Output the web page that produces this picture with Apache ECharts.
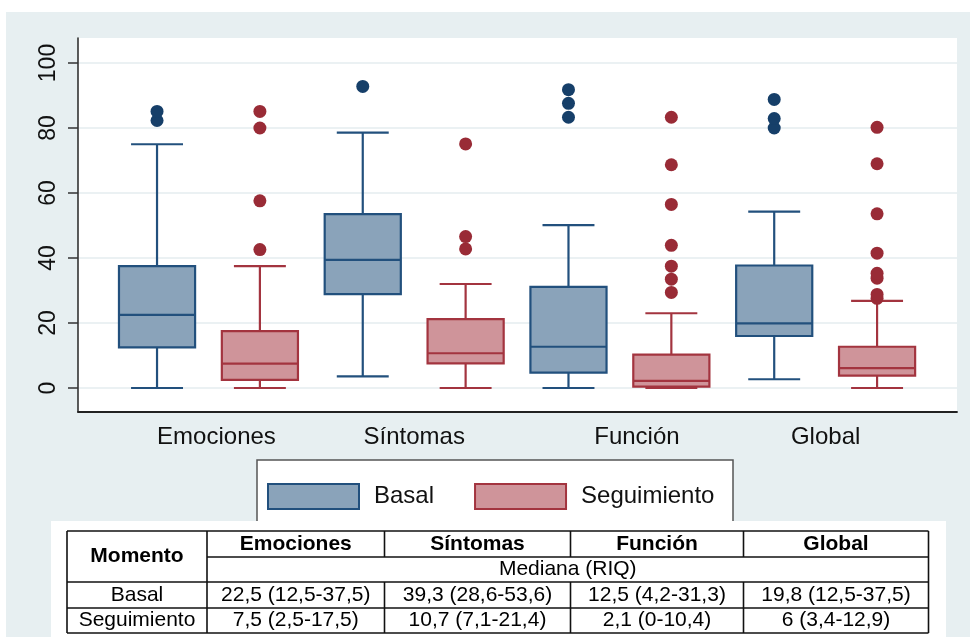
<!DOCTYPE html>
<html><head><meta charset="utf-8">
<script src="https://cdn.jsdelivr.net/npm/echarts@6/dist/echarts.min.js"></script>
<style>html,body{margin:0;padding:0;background:#fff}#c{width:970px;height:637px}</style>
</head><body><div id="c"></div>
<script>
// ---------- data ----------
const categories = ['Emociones', 'Síntomas', 'Función', 'Global'];
const groups = ['Basal', 'Seguimiento'];
const yTicks = [0, 20, 40, 60, 80, 100];
// [min whisker, Q1, median, Q3, max whisker]
const basalStats = [
  [0, 12.5, 22.5, 37.5, 75],
  [3.6, 28.9, 39.4, 53.5, 78.6],
  [0, 4.7, 12.7, 31.1, 50.1],
  [2.7, 16.0, 19.9, 37.7, 54.3]
];
const seguimientoStats = [
  [0, 2.5, 7.5, 17.5, 37.5],
  [0, 7.6, 10.7, 21.2, 32.0],
  [0, 0.4, 2.2, 10.3, 23.0],
  [0, 3.8, 6.1, 12.7, 26.8]
];
const basalOutliers = [
  [82.3, 85.1],
  [92.8],
  [83.3, 87.6, 91.8],
  [80.0, 82.9, 88.8]
];
const seguimientoOutliers = [
  [42.6, 57.6, 80.0, 85.1],
  [42.8, 46.6, 75.1],
  [29.4, 33.5, 37.5, 43.9, 56.5, 68.7, 83.3],
  [27.6, 28.8, 33.8, 35.3, 41.5, 53.6, 69.0, 80.2]
];
// table
const tableHeader = 'Momento';
const tableSubHeader = 'Mediana (RIQ)';
const tableRowNames = ['Basal', 'Seguimiento'];
const tableBasal = ['22,5 (12,5-37,5)', '39,3 (28,6-53,6)', '12,5 (4,2-31,3)', '19,8 (12,5-37,5)'];
const tableSeguimiento = ['7,5 (2,5-17,5)', '10,7 (7,1-21,4)', '2,1 (0-10,4)', '6 (3,4-12,9)'];

// ---------- style ----------
const FONT = '"Liberation Sans", Arial, Helvetica, sans-serif';
const basalLine = '#22507d', basalFill = '#8aa3ba', basalDot = '#163f69';
const segLine = '#a3343f', segFill = '#cf949a', segDot = '#992b36';
const bgGray = '#e7eff1';
// per-label horizontal nudge (style only)
const labelNudge = [16, 0, 34, 0];

const slots = categories.flatMap(c => groups.map(g => c + ' ' + g));

function boxData(stats, g) {
  return stats.map((s, i) => [i * 2 + g].concat(s));
}
function outlierData(outs, g) {
  return outs.flatMap((arr, i) => arr.map(v => [i * 2 + g, v]));
}
function makeRender(line, fill) {
  return function (params, api) {
    const x = api.value(0);
    const p = [1, 2, 3, 4, 5].map(k => api.coord([x, api.value(k)]));
    const band = api.size([1, 0])[0];
    const bw = band * 0.74, cw = band * 0.505;
    const cx = p[0][0];
    const st = { stroke: line, lineWidth: 2.2, fill: null };
    return {
      type: 'group',
      children: [
        { type: 'line', shape: { x1: cx, y1: p[0][1], x2: cx, y2: p[1][1] }, style: st },
        { type: 'line', shape: { x1: cx, y1: p[3][1], x2: cx, y2: p[4][1] }, style: st },
        { type: 'line', shape: { x1: cx - cw / 2, y1: p[0][1], x2: cx + cw / 2, y2: p[0][1] }, style: st },
        { type: 'line', shape: { x1: cx - cw / 2, y1: p[4][1], x2: cx + cw / 2, y2: p[4][1] }, style: st },
        { type: 'rect', shape: { x: cx - bw / 2, y: p[3][1], width: bw, height: p[1][1] - p[3][1] },
          style: { fill: fill, stroke: line, lineWidth: 2.2 } },
        { type: 'line', shape: { x1: cx - bw / 2, y1: p[2][1], x2: cx + bw / 2, y2: p[2][1] }, style: st }
      ]
    };
  };
}

// ---------- table graphics ----------
const colX = [67, 207, 384.5, 570.5, 743.5, 928.5];
const rowY = [531, 557, 582, 608, 633];
const tg = [];
const lineSt = { stroke: '#111', lineWidth: 1.6 };
function hl(x1, x2, y) { tg.push({ type: 'line', z: 6, shape: { x1, y1: y, x2, y2: y }, style: lineSt }); }
function vl(x, y1, y2) { tg.push({ type: 'line', z: 6, shape: { x1: x, y1, x2: x, y2 }, style: lineSt }); }
function tx(t, x, y, bold) {
  tg.push({ type: 'text', z: 6, x, y, style: { text: t, fontFamily: FONT, fontSize: 21,
    fontWeight: bold ? 'bold' : 'normal', fill: '#000', align: 'center', verticalAlign: 'middle' } });
}
tg.push({ type: 'rect', z: 5, shape: { x: 51, y: 521, width: 895, height: 116 }, style: { fill: '#fff' } });
hl(colX[0], colX[5], rowY[0]);
hl(colX[1], colX[5], rowY[1]);
hl(colX[0], colX[5], rowY[2]);
hl(colX[0], colX[5], rowY[3]);
hl(colX[0], colX[5], rowY[4]);
vl(colX[0], rowY[0], rowY[4]);
vl(colX[5], rowY[0], rowY[4]);
vl(colX[1], rowY[0], rowY[4]);
for (let i = 2; i < 5; i++) { vl(colX[i], rowY[0], rowY[1]); vl(colX[i], rowY[2], rowY[4]); }
tx(tableHeader, (colX[0] + colX[1]) / 2, (rowY[0] + rowY[2]) / 2, true);
categories.forEach((c, i) => tx(c, (colX[i + 1] + colX[i + 2]) / 2, (rowY[0] + rowY[1]) / 2, true));
tx(tableSubHeader, (colX[1] + colX[5]) / 2, (rowY[1] + rowY[2]) / 2, false);
[tableBasal, tableSeguimiento].forEach((row, r) => {
  tx(tableRowNames[r], (colX[0] + colX[1]) / 2, (rowY[2 + r] + rowY[3 + r]) / 2, false);
  row.forEach((v, i) => tx(v, (colX[i + 1] + colX[i + 2]) / 2, (rowY[2 + r] + rowY[3 + r]) / 2, false));
});

const rich = {};
labelNudge.forEach((n, i) => { rich['l' + i] = { fontSize: 24, color: '#111', fontFamily: FONT, padding: [0, 0, 0, n] }; });

const chart = echarts.init(document.getElementById('c'), null, { renderer: 'canvas' });
chart.setOption({
  backgroundColor: bgGray,
  animation: false,
  textStyle: { fontFamily: FONT },
  graphic: { elements: [
    { type: 'rect', z: 0, shape: { x: 0, y: 0, width: 970, height: 12 }, style: { fill: '#fff' } },
    { type: 'rect', z: 0, shape: { x: 0, y: 0, width: 6, height: 637 }, style: { fill: '#fff' } },
    { type: 'rect', z: 1, shape: { x: 257, y: 460, width: 476, height: 80 },
      style: { fill: '#fff', stroke: '#555', lineWidth: 1.5 } }
  ].concat(tg) },
  grid: [
    { left: 78, top: 38, width: 879, height: 374, show: true, backgroundColor: '#fff', borderWidth: 0 },
    { left: 78, top: 63, width: 879, height: 325 },
    { left: 105.6, top: 63, width: 822.9, height: 325 }
  ],
  xAxis: [
    { gridIndex: 0, type: 'value', min: 0, max: 1, position: 'bottom',
      axisLine: { show: true, lineStyle: { color: '#222', width: 1.8 } },
      axisTick: { show: false }, axisLabel: { show: false }, splitLine: { show: false } },
    { gridIndex: 1, type: 'value', min: 0, max: 1, show: false },
    { gridIndex: 2, type: 'category', data: slots, show: false },
    { gridIndex: 2, type: 'category', data: categories, position: 'bottom',
      axisLine: { show: false }, axisTick: { show: false },
      axisLabel: { interval: 0, hideOverlap: false, fontSize: 24, color: '#111', margin: 37, fontFamily: FONT, rich: rich,
        formatter: (v, i) => '{l' + i + '|' + v + '}' } }
  ],
  yAxis: [
    { gridIndex: 0, type: 'value', min: 0, max: 1,
      axisLine: { show: true, lineStyle: { color: '#333', width: 1.6 } },
      axisTick: { show: false }, axisLabel: { show: false }, splitLine: { show: false } },
    { gridIndex: 1, type: 'value', min: yTicks[0], max: yTicks[yTicks.length - 1], interval: yTicks[1] - yTicks[0],
      axisLine: { show: false },
      axisTick: { show: true, length: 10, lineStyle: { color: '#333', width: 1.5 } },
      axisLabel: { rotate: 90, fontSize: 23, color: '#111', margin: 18, fontFamily: FONT },
      splitLine: { show: true, lineStyle: { color: '#e4ecef', width: 1.6 } } },
    { gridIndex: 2, type: 'value', min: yTicks[0], max: yTicks[yTicks.length - 1], show: false }
  ],
  legend: {
    left: 267, top: 483, padding: 0, itemWidth: 91, itemHeight: 25, itemGap: 40, icon: 'rect',
    selectedMode: false,
    textStyle: { fontSize: 24, color: '#111', fontFamily: FONT, padding: [0, 0, 0, 10] },
    data: [
      { name: groups[0], itemStyle: { color: basalFill, borderColor: basalLine, borderWidth: 2 } },
      { name: groups[1], itemStyle: { color: segFill, borderColor: segLine, borderWidth: 2 } }
    ]
  },
  series: [
    { name: groups[0], type: 'custom', xAxisIndex: 2, yAxisIndex: 2, renderItem: makeRender(basalLine, basalFill),
      encode: { x: 0, y: [1, 2, 3, 4, 5] }, data: boxData(basalStats, 0), z: 3 },
    { name: groups[1], type: 'custom', xAxisIndex: 2, yAxisIndex: 2, renderItem: makeRender(segLine, segFill),
      encode: { x: 0, y: [1, 2, 3, 4, 5] }, data: boxData(seguimientoStats, 1), z: 3 },
    { name: groups[0], type: 'scatter', xAxisIndex: 2, yAxisIndex: 2, symbolSize: 13,
      itemStyle: { color: basalDot, opacity: 1 }, data: outlierData(basalOutliers, 0), z: 4 },
    { name: groups[1], type: 'scatter', xAxisIndex: 2, yAxisIndex: 2, symbolSize: 13,
      itemStyle: { color: segDot, opacity: 1 }, data: outlierData(seguimientoOutliers, 1), z: 4 }
  ]
});
</script>
</body></html>
